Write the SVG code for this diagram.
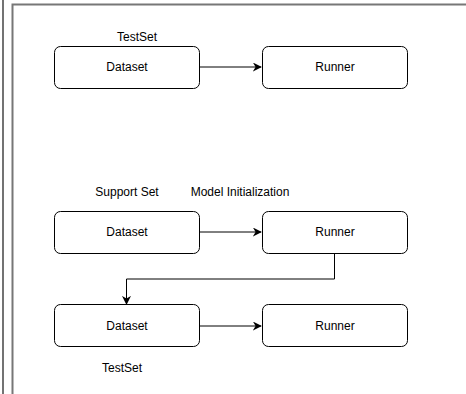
<svg xmlns="http://www.w3.org/2000/svg" width="466" height="394" viewBox="0 0 466 394">
<defs>
<style>
.node rect{fill:#fff;stroke:#000;stroke-width:1}
text{font-family:"Liberation Sans",Arial,sans-serif;font-size:12px;fill:#000}
.c{text-anchor:middle}
.edge{fill:none;stroke:#000;stroke-width:1}
.frame{fill:none;stroke:#777;stroke-width:2}
</style>
<marker id="arr" viewBox="0 0 10 10" refX="9" refY="5" markerWidth="9" markerHeight="9" markerUnits="userSpaceOnUse" orient="auto">
<path d="M0,0 L10,5 L0,10 L3,5 Z" fill="#000"/>
</marker>
</defs>
<rect width="466" height="394" fill="#fff"/>
<g id="frame">
<line x1="3" y1="0" x2="3" y2="394" stroke="#444" stroke-width="1.5"/>
<path class="frame" d="M12.5,394 V4.5 H466"/>
</g>
<g id="connectors">
<path class="edge" d="M199,67 H261" marker-end="url(#arr)"/>
<path class="edge" d="M199,232 H261" marker-end="url(#arr)"/>
<path class="edge" d="M334.5,253 V279 H126.5 V304" marker-end="url(#arr)"/>
<path class="edge" d="M199,326 H261" marker-end="url(#arr)"/>
</g>
<g id="label-testset-top"><text class="c" x="137" y="41">TestSet</text></g>
<g id="node-dataset1" class="node"><rect x="54.5" y="46.5" width="145" height="42" rx="6"/><text class="c" x="127" y="71">Dataset</text></g>
<g id="node-runner1" class="node"><rect x="262.5" y="46.5" width="145" height="42" rx="6"/><text class="c" x="335" y="71">Runner</text></g>
<g id="label-support"><text class="c" x="127" y="196">Support Set</text></g>
<g id="label-model"><text class="c" x="240" y="196">Model Initialization</text></g>
<g id="node-dataset2" class="node"><rect x="54.5" y="211.5" width="145" height="42" rx="6"/><text class="c" x="127" y="236">Dataset</text></g>
<g id="node-runner2" class="node"><rect x="262.5" y="211.5" width="145" height="42" rx="6"/><text class="c" x="335" y="236">Runner</text></g>
<g id="node-dataset3" class="node"><rect x="54.5" y="304.5" width="145" height="42" rx="6"/><text class="c" x="127" y="330">Dataset</text></g>
<g id="node-runner3" class="node"><rect x="262.5" y="304.5" width="145" height="42" rx="6"/><text class="c" x="335" y="330">Runner</text></g>
<g id="label-testset-bottom"><text class="c" x="122" y="372">TestSet</text></g>
</svg>
